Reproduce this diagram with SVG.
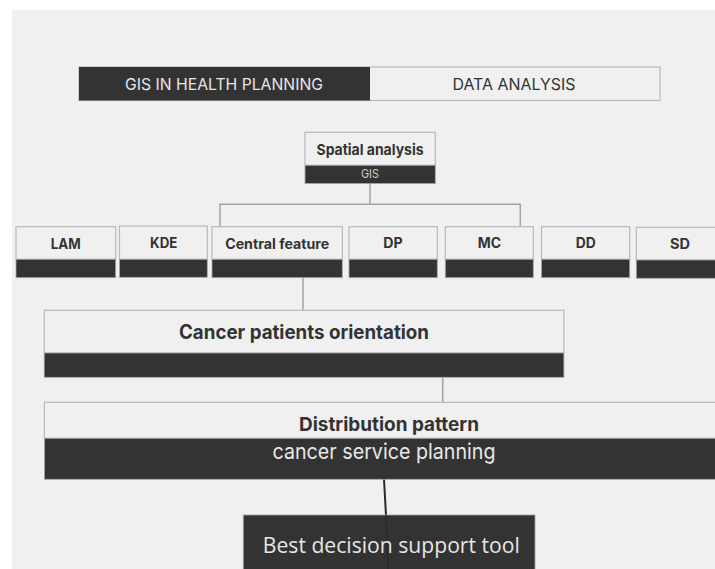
<svg xmlns="http://www.w3.org/2000/svg" width="715" height="569" viewBox="0 0 715 569">
<style>
.lt{fill:#f0f0f0;stroke:#b9b9b9;stroke-width:1.2}
.dk{fill:#333333;stroke:#a8a8a8;stroke-width:0.8}
.b{font-family:Inter,Roboto,"Liberation Sans",sans-serif;font-weight:700;fill:#333;text-anchor:middle}
.r{font-family:Inter,Roboto,"Liberation Sans",sans-serif;font-weight:400;text-anchor:middle}
.cn{fill:none;stroke:#a3a3a3;stroke-width:1.5}
</style>
<rect x="0" y="0" width="715" height="569" fill="#ffffff"/>
<rect x="12" y="10" width="703" height="559" fill="#f0f0f0"/>

<g id="tabs">
  <rect x="79" y="67" width="581" height="33.5" class="lt"/>
  <rect x="79" y="67" width="291" height="33.5" fill="#333333"/>
  <text x="224" y="90" class="r" font-size="16" font-weight="300" fill="#e6e6e6" textLength="198" lengthAdjust="spacingAndGlyphs">GIS IN HEALTH PLANNING</text>
  <text x="514" y="90" class="r" font-size="16" font-weight="300" fill="#333" textLength="123" lengthAdjust="spacingAndGlyphs">DATA ANALYSIS</text>
</g>

<g id="connectors">
  <path class="cn" d="M370,183.5 V204.3 M220,228 V204.3 H520.3 V228"/>
  <path class="cn" d="M303,277.5 V310.5"/>
  <path class="cn" d="M442.7,377 V402.5"/>
  <path d="M384,479 L386,515.5" fill="none" stroke="#2a2a2a" stroke-width="2"/>
</g>

<g id="spatial-analysis">
  <rect x="305" y="132.3" width="130.3" height="33" class="lt"/>
  <rect x="305" y="165.3" width="130.3" height="18.3" class="dk"/>
  <text x="370" y="154.7" class="b" font-size="15" textLength="107" lengthAdjust="spacingAndGlyphs">Spatial analysis</text>
  <text x="370" y="177.7" class="r" font-size="11.5" fill="#d0d0d0" textLength="18" lengthAdjust="spacingAndGlyphs">GIS</text>
</g>

<g id="lam">
  <rect x="16" y="226.7" width="99.7" height="32.6" class="lt"/>
  <rect x="16" y="259.3" width="99.7" height="18.4" class="dk"/>
  <text x="65.7" y="248.7" class="b" font-size="14" textLength="30" lengthAdjust="spacingAndGlyphs">LAM</text>
</g>
<g id="kde">
  <rect x="119.5" y="226" width="87.8" height="33.3" class="lt"/>
  <rect x="119.5" y="259.3" width="87.8" height="18" class="dk"/>
  <text x="163.7" y="247.7" class="b" font-size="14" textLength="27.3" lengthAdjust="spacingAndGlyphs">KDE</text>
</g>
<g id="central-feature">
  <rect x="212" y="226.7" width="130.3" height="32.6" class="lt"/>
  <rect x="212" y="259.3" width="130.3" height="18.4" class="dk"/>
  <text x="277.2" y="249.3" class="b" font-size="14" textLength="104" lengthAdjust="spacingAndGlyphs">Central feature</text>
</g>
<g id="dp">
  <rect x="349" y="226.7" width="88.3" height="32.6" class="lt"/>
  <rect x="349" y="259.3" width="88.3" height="18.4" class="dk"/>
  <text x="393" y="248.3" class="b" font-size="14" textLength="19.4" lengthAdjust="spacingAndGlyphs">DP</text>
</g>
<g id="mc">
  <rect x="445.3" y="226.7" width="88" height="32.6" class="lt"/>
  <rect x="445.3" y="259.3" width="88" height="18.4" class="dk"/>
  <text x="489.4" y="248.3" class="b" font-size="14" textLength="23.3" lengthAdjust="spacingAndGlyphs">MC</text>
</g>
<g id="dd">
  <rect x="541.5" y="226.7" width="88.2" height="32.6" class="lt"/>
  <rect x="541.5" y="259.3" width="88.2" height="18.4" class="dk"/>
  <text x="585.7" y="248.3" class="b" font-size="14" textLength="20" lengthAdjust="spacingAndGlyphs">DD</text>
</g>
<g id="sd">
  <rect x="636.3" y="227.3" width="90" height="32.7" class="lt"/>
  <rect x="636.3" y="260" width="90" height="18.3" class="dk"/>
  <text x="680" y="249" class="b" font-size="14" textLength="20" lengthAdjust="spacingAndGlyphs">SD</text>
</g>

<g id="cancer-patients-orientation">
  <rect x="44.2" y="310.3" width="519.7" height="42.7" class="lt"/>
  <rect x="44.2" y="353" width="519.7" height="24.3" class="dk"/>
  <text x="304" y="339" class="b" font-size="19.5" textLength="250" lengthAdjust="spacingAndGlyphs">Cancer patients orientation</text>
</g>

<g id="distribution-pattern">
  <rect x="44.4" y="402.3" width="690" height="36" class="lt"/>
  <rect x="44.4" y="438.3" width="690" height="41" class="dk"/>
  <text x="389" y="430.7" class="b" font-size="19" textLength="180" lengthAdjust="spacingAndGlyphs">Distribution pattern</text>
  <text x="384" y="458.7" class="r" font-size="21.5" fill="#e8e8e8" font-weight="300" textLength="223" lengthAdjust="spacingAndGlyphs">cancer service planning</text>
</g>

<g id="best-decision-support-tool">
  <rect x="243.3" y="515" width="291.7" height="70" fill="#333333" stroke="#a0a0a0" stroke-width="0.8"/>
  <path d="M386,515.5 L388,569" fill="none" stroke="#2b2b2b" stroke-width="1.5"/>
  <text x="391.3" y="552.7" font-family="'Open Sans','Noto Sans',sans-serif" font-size="21" fill="#e6e6e6" text-anchor="middle" textLength="257" lengthAdjust="spacingAndGlyphs">Best decision support tool</text>
</g>
</svg>
